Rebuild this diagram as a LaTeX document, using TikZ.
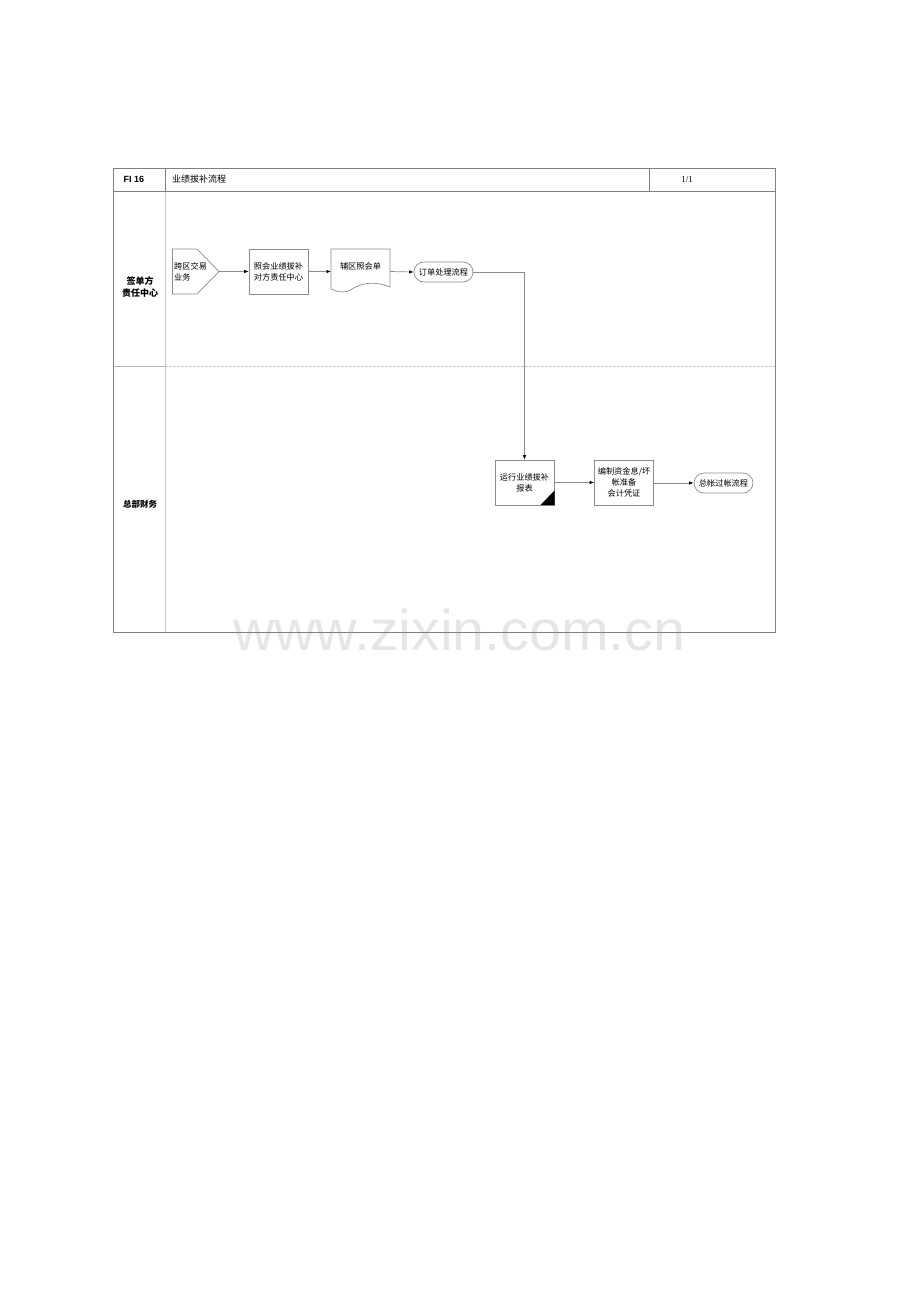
\documentclass[tikz,border=0pt]{standalone}
\usepackage{fontspec}
\setmainfont{Liberation Serif}
\newfontfamily\cjk{Noto Sans CJK SC}
\newfontfamily\wm{Liberation Sans}
\usetikzlibrary{arrows.meta}
\definecolor{frame}{HTML}{808080}
\definecolor{lane}{HTML}{C8C8C8}
\definecolor{nodeline}{HTML}{8C8C8C}
\definecolor{wmgray}{HTML}{E6E6E6}
\tikzset{
  boxnode/.style={draw=nodeline, line width=0.7pt, minimum width=59pt, minimum height=45pt, inner sep=0pt, align=center, font=\cjk\fontsize{8.2}{11}\selectfont},
  termnode/.style={draw=nodeline, line width=0.7pt, rounded corners=10pt, minimum width=59pt, minimum height=20pt, inner sep=0pt, font=\cjk\fontsize{8.2}{11}\selectfont},
  txt/.style={inner sep=0pt, font=\cjk\fontsize{8.2}{11}\selectfont},
  lanelabel/.style={inner sep=0pt, align=center, font=\cjk\bfseries\fontsize{9}{11.5}\selectfont},
  flow/.style={draw=nodeline, line width=0.7pt, -{Latex[length=4.5pt,width=3.5pt,black]}},
}
\begin{document}
\begin{tikzpicture}[x=1pt,y=-1pt]
\useasboundingbox (0,0) rectangle (920,1301);
% watermark
\node[anchor=base west, inner sep=0pt, text=wmgray, font=\wm\fontsize{57.3}{60}\selectfont] (wmark) at (233,650) {www.zixin.com.cn};
% table frame
\draw[lane, line width=0.7pt] (165,191) -- (165,632);
\draw[lane, line width=0.8pt, dash pattern=on 3pt off 1pt] (165,366) -- (775,366);
\draw[frame!60, line width=0.8pt] (113,366) -- (165,366);
\draw[frame, line width=0.8pt] (113,191) -- (775,191);
\draw[frame, line width=0.8pt] (165,168) -- (165,191);
\draw[frame, line width=0.8pt] (649,168) -- (649,191);
\draw[frame, line width=0.9pt] (113,168) rectangle (775,632);
% header text
\node[inner sep=0pt, font=\wm\bfseries\fontsize{9}{11}\selectfont] (hid) at (134,179.5) {FI 16};
\node[anchor=west, inner sep=0pt, font=\cjk\fontsize{9}{11}\selectfont] (htitle) at (172,179.5) {业绩拔补流程};
\node[inner sep=0pt, font=\fontsize{9}{11}\selectfont] (hpage) at (687,180) {1/1};
% lane labels
\node[lanelabel] (lane1) at (140,287) {签单方\\责任中心};
\node[lanelabel, font=\cjk\bfseries\fontsize{8.5}{11}\selectfont] (lane2) at (140,504) {总部财务};
% pentagon (off-page)
\draw[nodeline, line width=0.7pt] (172.5,249) -- (197,249) -- (219,271.5) -- (197,294) -- (172.5,294) -- cycle;
\coordinate (p1) at (219,271.5);
\node[txt, anchor=north west, align=left] (n1) at (174,262) {跨区交易\\业务};
% rect
\node[boxnode] (n2) at (278.5,271.5) {照会业绩拔补\\对方责任中心};
% document
\draw[nodeline, line width=0.7pt] (331,249) -- (390,249) -- (390,287) .. controls (372,280) and (360,284) .. (352,289) .. controls (344,294) and (338,292) .. (331,289) -- cycle;
\coordinate (d1) at (331,271.5);
\node[txt] (n3) at (360.5,266) {辅区照会单};
% terminator 1
\node[termnode] (n4) at (443.5,272) {订单处理流程};
% lower boxes
\node[boxnode] (n5) at (524.5,482.5) {运行业绩拔补\\报表};
\fill[black] (540.5,505) -- (554.5,505) -- (554.5,490.5) -- cycle;
\node[boxnode, font=\cjk\fontsize{8.2}{10.8}\selectfont] (n6) at (624,482.5) {编制资金息/坏\\帐准备\\会计凭证};
\node[termnode] (n7) at (723.5,483) {总帐过帐流程};
% connectors
\draw[flow] (p1) -- (n2.west |- p1);
\draw[flow] (n2.east |- p1) -- (d1);
\draw[flow] (390,271.5) -- (n4.west);
\draw[flow] (n4.east) -- (524.5,272) -- (n5.north);
\draw[flow] (n5.east) -- (n6.west);
\draw[flow] (n6.east |- n7) -- (n7.west);
\end{tikzpicture}
\end{document}
